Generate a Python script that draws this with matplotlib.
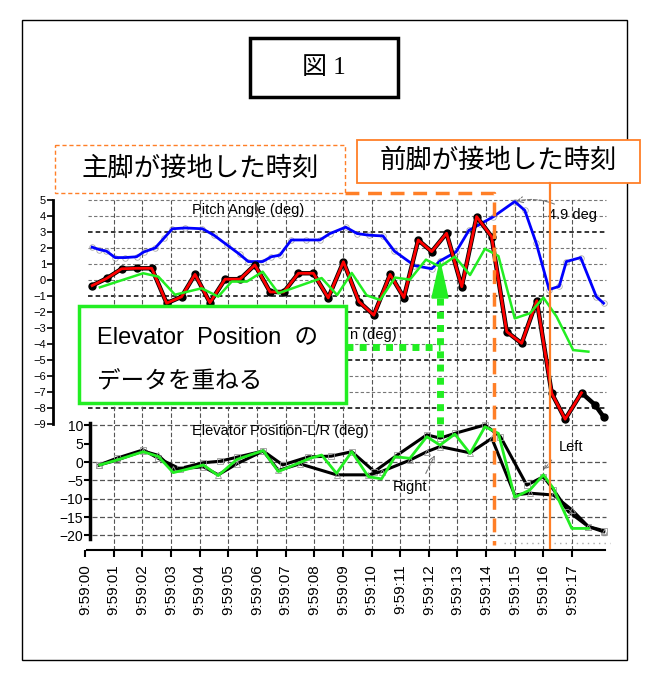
import matplotlib.pyplot as plt
from matplotlib.patches import Rectangle, Polygon

plt.rcParams['font.family'] = ['Liberation Sans', 'Noto Sans CJK JP']

W, H = 646, 678
X0, SEC = 85, 28.65   # pixel of 9:59:00 and pixels per second

tick_labels = ['9:59:%02d' % s for s in range(18)]

# Pitch Angle (deg), seconds after 9:59:00
pitch_t = [0.25, 0.5, 0.75, 1.05, 1.4, 1.8, 2.05, 2.45, 2.75, 3.05, 3.5, 4.1, 4.5, 4.95, 5.4,
           5.7, 6.2, 6.5, 6.8, 7.2, 7.7, 8.2, 8.55, 9.1, 9.5, 9.9, 10.4, 10.8, 11.5, 12.1,
           12.4, 12.95, 13.4, 13.8, 14.25, 15.0, 15.35, 15.75, 16.2, 16.55, 16.8, 17.3, 17.85, 18.1]
pitch_v = [2.05, 1.9, 1.8, 1.4, 1.4, 1.45, 1.75, 2.0, 2.6, 3.2, 3.25, 3.2, 2.8, 2.2, 1.6,
           1.15, 1.15, 1.45, 1.55, 2.5, 2.5, 2.5, 2.9, 3.3, 2.9, 2.8, 2.75, 1.8, 0.9, 0.7,
           1.2, 1.75, 3.1, 3.5, 3.95, 4.9, 4.35, 2.3, -0.6, -0.4, 1.15, 1.4, -1.05, -1.45]

# column position trace (label partly hidden under the callout box)
col_t = [0.25, 0.76, 1.28, 1.8, 2.33, 2.85, 3.37, 3.84, 4.36, 4.89, 5.41, 5.93, 6.46, 6.94,
         7.45, 7.97, 8.49, 9.02, 9.56, 10.08, 10.65, 11.13, 11.63, 12.1, 12.62, 13.15, 13.67,
         14.19, 14.72, 15.24, 15.77, 16.29, 16.76, 17.33, 17.8, 18.1]
col_v = [-0.35, 0.1, 0.7, 0.73, 0.73, -1.45, -1.05, 0.35, -1.42, 0.05, 0.05, 0.94, -0.75, -0.75,
         0.42, 0.42, -1.12, 1.14, -1.35, -2.2, 0.35, -1.1, 2.5, 1.77, 2.92, -0.42, 3.96,
         2.71, -3.23, -3.96, -1.3, -7.08, -8.7, -7.05, -7.8, -8.55]
col_red_n = 34

# Elevator Position laid over the upper panel
elev_top_t = [0.52, 2.03, 2.56, 3.14, 4.07, 4.65, 5.12, 5.65, 6.2, 6.75, 8.26, 8.8, 9.31, 9.83,
              10.3, 10.82, 11.34, 11.9, 12.39, 12.91, 13.44, 13.96, 14.43, 15.0, 15.53, 16.0,
              16.46, 17.04, 17.57]
elev_top_v = [-0.46, 0.42, 0.21, -0.92, -0.52, -1.04, -0.1, -0.1, 0.52, -0.83, 0.12, -0.94, 0.44,
              -0.96, -1.25, 0.15, 0.02, 1.27, 0.83, 1.46, 0.31, 1.95, 1.5, -2.4, -2.08, -1.1,
              -2.29, -4.38, -4.48]

# Elevator Position-L/R (deg)
elev_t = [0.52, 1.1, 2.03, 2.56, 3.08, 3.55, 4.13, 4.65, 5.3, 6.22, 6.75, 7.85, 8.26, 8.78,
          9.31, 9.89, 10.35, 10.82, 11.34, 11.93, 12.39, 12.91, 13.44, 13.96, 14.43, 15.0,
          15.53, 16.0, 16.35, 16.99, 17.57]
elev_v = [-0.8, 0.5, 2.8, 1.5, -2.9, -2.0, -0.8, -3.7, 0.7, 3.1, -2.6, 1.0, 1.9, -3.1,
          2.8, -4.0, -4.6, 1.45, 1.0, 6.9, 4.6, 7.6, 2.35, 9.6, 7.8, -9.6,
          -7.6, -3.5, -7.2, -18.1, -18.1]
left_t = [0.5, 1.1, 2.03, 2.56, 3.3, 4.13, 4.7, 5.3, 6.22, 6.9, 7.8, 8.6, 9.31, 10.1, 10.9,
          11.93, 12.4, 12.91, 13.96, 14.5, 15.42, 16.0, 16.35, 16.87, 17.57, 18.1]
left_v = [-0.8, 1.0, 3.3, 1.0, -1.8, -0.2, 0.2, 1.3, 3.0, -0.8, 1.4, 1.6, 2.8, -2.6, 1.9,
          7.4, 6.5, 7.8, 10.1, 6.9, -6.3, -4.0, -7.5, -13.5, -17.6, -18.7]
right_t = [0.5, 1.1, 2.03, 2.56, 3.08, 4.13, 4.65, 5.3, 6.22, 6.75, 7.5, 8.78, 9.89, 10.35,
           11.34, 11.93, 12.39, 13.44, 14.2, 15.0, 15.53, 16.35, 16.99, 17.57, 18.1]
right_v = [-0.8, 0.5, 3.0, 1.8, -2.0, -1.3, -3.5, -0.5, 3.0, -2.3, -0.5, -3.5, -3.5, -2.6,
           0.5, 2.8, 4.2, 2.5, 6.45, -9.0, -8.5, -9.0, -13.0, -17.6, -19.0]

main_gear_t = 14.28
nose_gear_t = 16.23

GREEN = '#22ee22'
ORANGE = '#ff7f27'


def t_px(x):
    return (x - X0) / SEC


def box(x0, y0, x1, y1):
    return [x0 / W, 1 - y1 / H, (x1 - x0) / W, (y1 - y0) / H]


fig = plt.figure(figsize=(W / 100, H / 100), dpi=100)

# ---- upper panel: pitch / column / elevator overlay
ax1 = fig.add_axes(box(40, 199, 620, 424))
ax1.set_xlim(t_px(40), t_px(620))
ax1.set_ylim(-9, 5.06)
ax1.patch.set_alpha(0)
for s in ['top', 'right', 'bottom']:
    ax1.spines[s].set_visible(False)
ax1.spines['left'].set_position(('data', t_px(53)))
ax1.spines['left'].set_bounds(-9, 5)
ax1.spines['left'].set_linewidth(2)
ax1.set_xticks([])
ax1.set_yticks(range(-9, 6))
ax1.tick_params(axis='y', labelsize=8, length=4, width=1.2, pad=1)

dark = {3, -1, -2, -3, -5, -8}
for v in range(-8, 6):
    ax1.hlines(v, t_px(88), t_px(606), colors='black' if v in dark else '#777777',
               lw=1.1 if v in dark else 0.8, linestyles=(0, (3, 2)), zorder=1)
for s in range(1, 18):
    ax1.vlines(s, -9, 5, colors='#555555', lw=0.8, linestyles=(0, (4, 2)), zorder=1)

ax1.plot(pitch_t, pitch_v, ls='none', marker='o', ms=4, mfc='none', mec='#aaaaaa', mew=0.6, zorder=2)
ax1.plot(pitch_t, pitch_v, color='#0000ff', lw=2, zorder=3)
ax1.plot(col_t, col_v, color='black', lw=3.2, marker='o', ms=5, zorder=3)
ax1.plot(col_t[:col_red_n], col_v[:col_red_n], color='red', lw=2, zorder=4)
ax1.plot(elev_top_t, elev_top_v, color=GREEN, lw=1.8, zorder=4)

ax1.text(5.69, 4.38, 'Pitch Angle (deg)', ha='center', va='center', fontsize=10.5)
ax1.text(10.86, -3.44, 'n (deg)', ha='right', va='center', fontsize=10.5)
peak = pitch_v.index(max(pitch_v))
ax1.annotate('%.1f deg' % max(pitch_v), xy=(pitch_t[peak], pitch_v[peak]),
             xytext=(16.15, 4.06), fontsize=10.5, va='center',
             arrowprops=dict(arrowstyle='->', color='#777777', lw=0.8, ls='--',
                             connectionstyle='arc3,rad=0.25', shrinkA=2, shrinkB=1))

# ---- lower panel: elevator position left / right
ax2 = fig.add_axes(box(40, 422, 620, 550))
ax2.set_xlim(t_px(40), t_px(620))
ax2.set_ylim(-23.98, 10.9)
ax2.patch.set_alpha(0)
for s in ['top', 'right']:
    ax2.spines[s].set_visible(False)
ax2.spines['left'].set_position(('data', t_px(90)))
ax2.spines['left'].set_bounds(-21, 10.5)
ax2.spines['left'].set_linewidth(2.5)
ax2.spines['bottom'].set_bounds(t_px(87), t_px(605))
ax2.spines['bottom'].set_linewidth(1.5)
ax2.set_yticks(range(-20, 11, 5))
ax2.tick_params(axis='y', labelsize=10, length=4, width=1.5, pad=1)
ax2.set_xticks(range(18))
ax2.set_xticklabels(tick_labels, rotation=90, fontsize=11)
ax2.tick_params(axis='x', length=5, width=1.5, pad=5)

for v in [10, 0, -5, -10, -15, -20]:
    ax2.hlines(v, t_px(92), t_px(606), colors='#555555', lw=0.9, linestyles=(0, (4, 2)), zorder=1)
ax2.hlines(-22.1, t_px(504), t_px(610), colors='#aaaaaa', lw=1, linestyles=(0, (1, 3)), zorder=1)
for s in range(1, 18):
    ax2.vlines(s, -23.9, 10.9, colors='#555555', lw=0.8, linestyles=(0, (4, 2)), zorder=1)

ax2.plot(left_t, left_v, color='black', lw=2.2, marker='s', ms=4, mfc='none', mec='#999999', mew=0.6, zorder=3)
ax2.plot(right_t, right_v, color='black', lw=2.2, marker='^', ms=4, mfc='none', mec='#999999', mew=0.6, zorder=3)
ax2.plot(elev_t, elev_v, color=GREEN, lw=2, zorder=4)

ax2.text(6.8, 8.45, 'Elevator Position-L/R (deg)', ha='center', va='center', fontsize=10.5)
ax2.text(11.34, -6.8, 'Right', ha='center', va='center', fontsize=10.5)
ax2.text(16.96, 4.1, 'Left', ha='center', va='center', fontsize=10.5)
ax2.annotate('', xy=(12.25, 2.5), xytext=(11.85, -3.8),
             arrowprops=dict(arrowstyle='->', color='#777777', lw=0.8, ls='--'))
ax2.annotate('', xy=(15.95, -2.7), xytext=(16.35, 1.1),
             arrowprops=dict(arrowstyle='->', color='#777777', lw=0.8, ls='--'))

# ---- callouts and frame
ov = fig.add_axes([0, 0, 1, 1])
ov.set_xlim(0, W)
ov.set_ylim(H, 0)
ov.axis('off')

ov.add_patch(Rectangle((22, 20), 605, 640, fill=False, lw=1, ec='black'))
ov.add_patch(Rectangle((250, 38), 148, 59, fill=False, lw=2.5, ec='black'))
ov.text(324, 68, '図 1', ha='center', va='center', fontsize=18,
        family=['Liberation Serif', 'Noto Sans CJK JP'])

x_main = X0 + SEC * main_gear_t
x_nose = X0 + SEC * nose_gear_t
ov.add_patch(Rectangle((55, 145), 290, 48, fc='white', ec=ORANGE, lw=1, ls=(0, (3, 2))))
ov.text(200, 169, '主脚が接地した時刻', ha='center', va='center', fontsize=19)
ov.plot([345, x_main, x_main], [193, 193, 545], color=ORANGE, lw=2.5, ls=(0, (4, 2.5)))

ov.add_patch(Rectangle((357, 140), 283, 43, fc='white', ec=ORANGE, lw=1.3))
ov.text(498, 161, '前脚が接地した時刻', ha='center', va='center', fontsize=19)
ov.plot([x_nose, x_nose], [183, 548], color=ORANGE, lw=1.6)

ov.add_patch(Rectangle((79, 306), 267, 97, fc='white', ec=GREEN, lw=2.5))
ov.text(97, 337, 'Elevator  Position  の', ha='left', va='center', fontsize=17)
ov.text(97, 382, 'データを重ねる', ha='left', va='center', fontsize=17)

x_arrow = X0 + SEC * 12.39
ov.plot([346, x_arrow], [347, 347], color=GREEN, lw=5, ls=(0, (1, 0.9)))
ov.plot([x_arrow, x_arrow], [437, 298], color=GREEN, lw=5, ls=(0, (1, 0.9)))
ov.add_patch(Polygon([(x_arrow, 262), (x_arrow - 8, 298), (x_arrow + 8, 298)], color=GREEN))

fig.savefig('out.png', dpi=100)
